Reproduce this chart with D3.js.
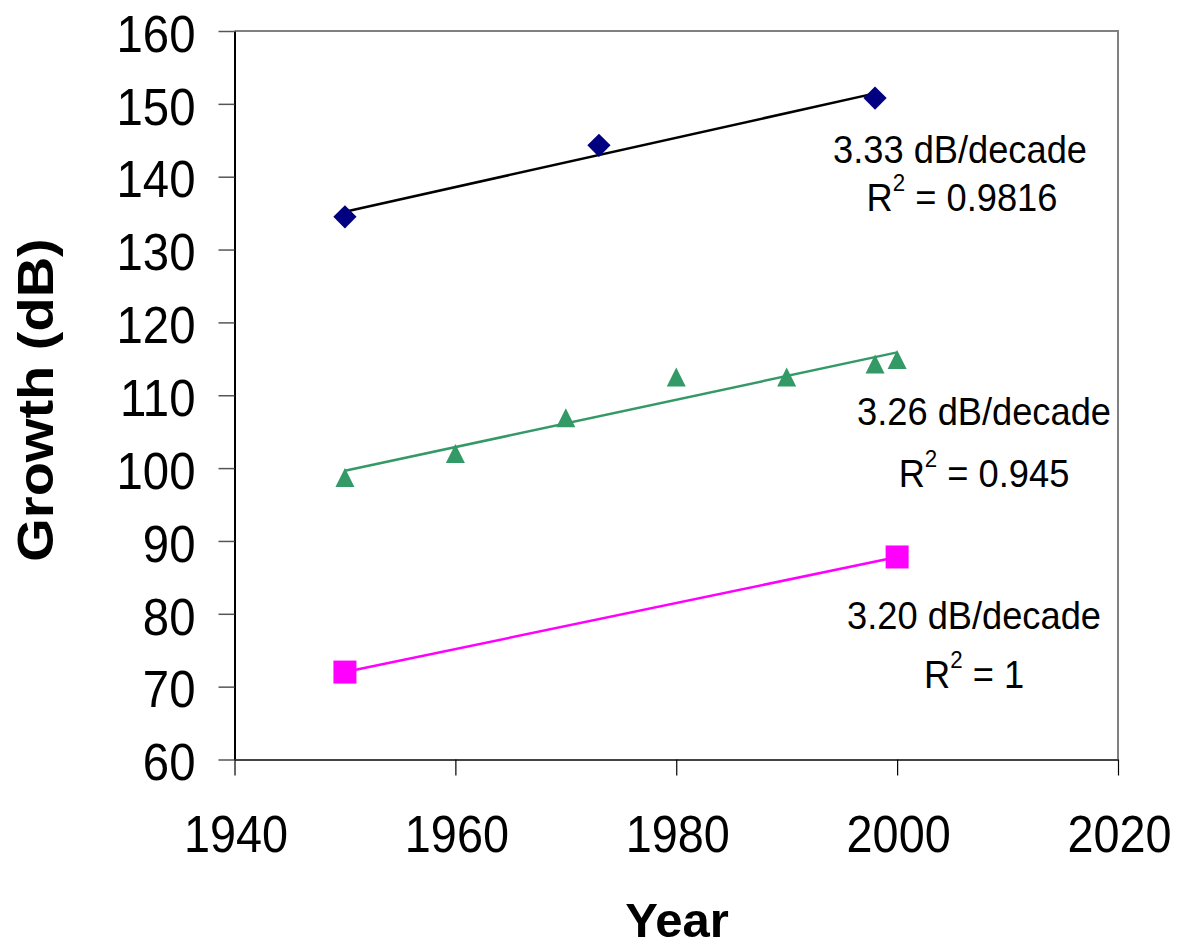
<!DOCTYPE html>
<html>
<head>
<meta charset="utf-8">
<script src="https://cdn.jsdelivr.net/npm/d3@7"></script>
<style>
  body { margin: 0; background: #fff; }
  text { font-family: "Liberation Sans", Arial, sans-serif; fill: #000; }
</style>
</head>
<body>
<div id="chart"></div>
<script>
// data
const blueYears = [1950, 1973, 1998];
const blueValues = [134.5, 144.3, 150.8];
const greenYears = [1950, 1960, 1970, 1980, 1990, 1998, 2000];
const greenValues = [98.7, 102.0, 106.9, 112.5, 112.5, 114.3, 114.9];
const pinkYears = [1950, 2000];
const pinkValues = [72.0, 87.8];

const xTicks = [1940, 1960, 1980, 2000, 2020];
const yTicks = [60, 70, 80, 90, 100, 110, 120, 130, 140, 150, 160];

const slopeLabels = ["3.33 dB/decade", "3.26 dB/decade", "3.20 dB/decade"];
const r2Labels = ["0.9816", "0.945", "1"];

const svgWidth = 1177, svgHeight = 948;
const plotLeft = 234.5, plotRight = 1118, plotTop = 31, plotBottom = 759.5;

const svg = d3.select("#chart")
    .append("svg")
    .attr("width", svgWidth)
    .attr("height", svgHeight);

const x = d3.scaleLinear().domain([1940, 2020]).range([plotLeft, plotRight]);
const y = d3.scaleLinear().domain([60, 160]).range([plotBottom, plotTop]);

// plot frame (top/right border grey)
svg.append("path")
    .attr("d", `M${plotLeft},${plotTop}H${plotRight}V${plotBottom}`)
    .attr("fill", "none")
    .attr("stroke", "#808080")
    .attr("stroke-width", 2);

// y axis
const yAxis = svg.append("g")
    .attr("transform", `translate(${plotLeft},0)`)
    .call(d3.axisLeft(y).tickValues(yTicks).tickSize(16).tickSizeOuter(0));
yAxis.select(".domain").attr("stroke", "#000").attr("stroke-width", 2);
yAxis.selectAll(".tick line").attr("stroke", "#555").attr("stroke-width", 1.5);
yAxis.selectAll(".tick text")
    .attr("x", 0)
    .attr("dy", "0.39em")
    .attr("transform", "translate(-39,0) scale(0.91,1)")
    .attr("font-size", 52)
    .attr("font-family", "'Liberation Sans', Arial, sans-serif");

// x axis
const xAxis = svg.append("g")
    .attr("transform", `translate(0,${plotBottom})`)
    .call(d3.axisBottom(x).tickValues(xTicks).tickFormat(d3.format("d")).tickSize(16).tickSizeOuter(0));
xAxis.select(".domain").attr("stroke", "#444").attr("stroke-width", 2);
xAxis.selectAll(".tick line").attr("stroke", "#000").attr("stroke-width", 1.2);
xAxis.selectAll(".tick text")
    .attr("y", 0)
    .attr("dy", 0)
    .attr("transform", "translate(1,92.5) scale(0.9,1)")
    .attr("font-size", 52)
    .attr("font-family", "'Liberation Sans', Arial, sans-serif");

// axis titles
svg.append("text")
    .text("Growth (dB)")
    .attr("transform", "translate(53,400) rotate(-90) scale(1.12,1)")
    .attr("text-anchor", "middle")
    .attr("font-weight", "bold")
    .attr("font-size", 50);
svg.append("text")
    .text("Year")
    .attr("x", 677)
    .attr("y", 937)
    .attr("text-anchor", "middle")
    .attr("font-weight", "bold")
    .attr("font-size", 49);

// least squares trend line
function fit(xs, ys) {
    const mx = d3.mean(xs), my = d3.mean(ys);
    const sxy = d3.sum(xs, (v, i) => (v - mx) * (ys[i] - my));
    const sxx = d3.sum(xs, v => (v - mx) * (v - mx));
    const slope = sxy / sxx;
    return v => my + slope * (v - mx);
}

const triangle = {
    draw(ctx, size) {
        const h = Math.sqrt(size);
        ctx.moveTo(0, -h / 2);
        ctx.lineTo(h / 2, h / 2);
        ctx.lineTo(-h / 2, h / 2);
        ctx.closePath();
    }
};

const series = [
    { years: blueYears, values: blueValues, line: "#000", color: "#000080",
      symbol: d3.symbolSquare, size: 270, rotate: 45 },
    { years: greenYears, values: greenValues, line: "#339966", color: "#339966",
      symbol: triangle, size: 19 * 19, rotate: 0 },
    { years: pinkYears, values: pinkValues, line: "#ff00ff", color: "#ff00ff",
      symbol: d3.symbolSquare, size: 23 * 23, rotate: 0 }
];

series.forEach(s => {
    const f = fit(s.years, s.values);
    const x0 = d3.min(s.years), x1 = d3.max(s.years);
    svg.append("line")
        .attr("x1", x(x0)).attr("y1", y(f(x0)))
        .attr("x2", x(x1)).attr("y2", y(f(x1)))
        .attr("stroke", s.line)
        .attr("stroke-width", 2.5);
    svg.append("g")
        .selectAll("path")
        .data(s.years.map((v, i) => [v, s.values[i]]))
        .join("path")
        .attr("d", d3.symbol().type(s.symbol).size(s.size))
        .attr("transform", d => `translate(${x(d[0])},${y(d[1])}) rotate(${s.rotate})`)
        .attr("fill", s.color);
});

// trend annotations
const labelSpots = [
    { cx: 960, top: 163, cx2: 962, bottom: 211 },
    { cx: 984, top: 425, cx2: 984, bottom: 487 },
    { cx: 974, top: 629, cx2: 974, bottom: 688 }
];

labelSpots.forEach((p, i) => {
    svg.append("text")
        .text(slopeLabels[i])
        .attr("transform", `translate(${p.cx},${p.top}) scale(0.93,1)`)
        .attr("text-anchor", "middle")
        .attr("font-size", 39);
    const t = svg.append("text")
        .attr("transform", `translate(${p.cx2},${p.bottom}) scale(0.93,1)`)
        .attr("text-anchor", "middle")
        .attr("font-size", 39);
    t.append("tspan").text("R");
    t.append("tspan").text("2").attr("font-size", 24).attr("dy", -20);
    t.append("tspan").text(" = " + r2Labels[i]).attr("dy", 20);
});
</script>
</body>
</html>
